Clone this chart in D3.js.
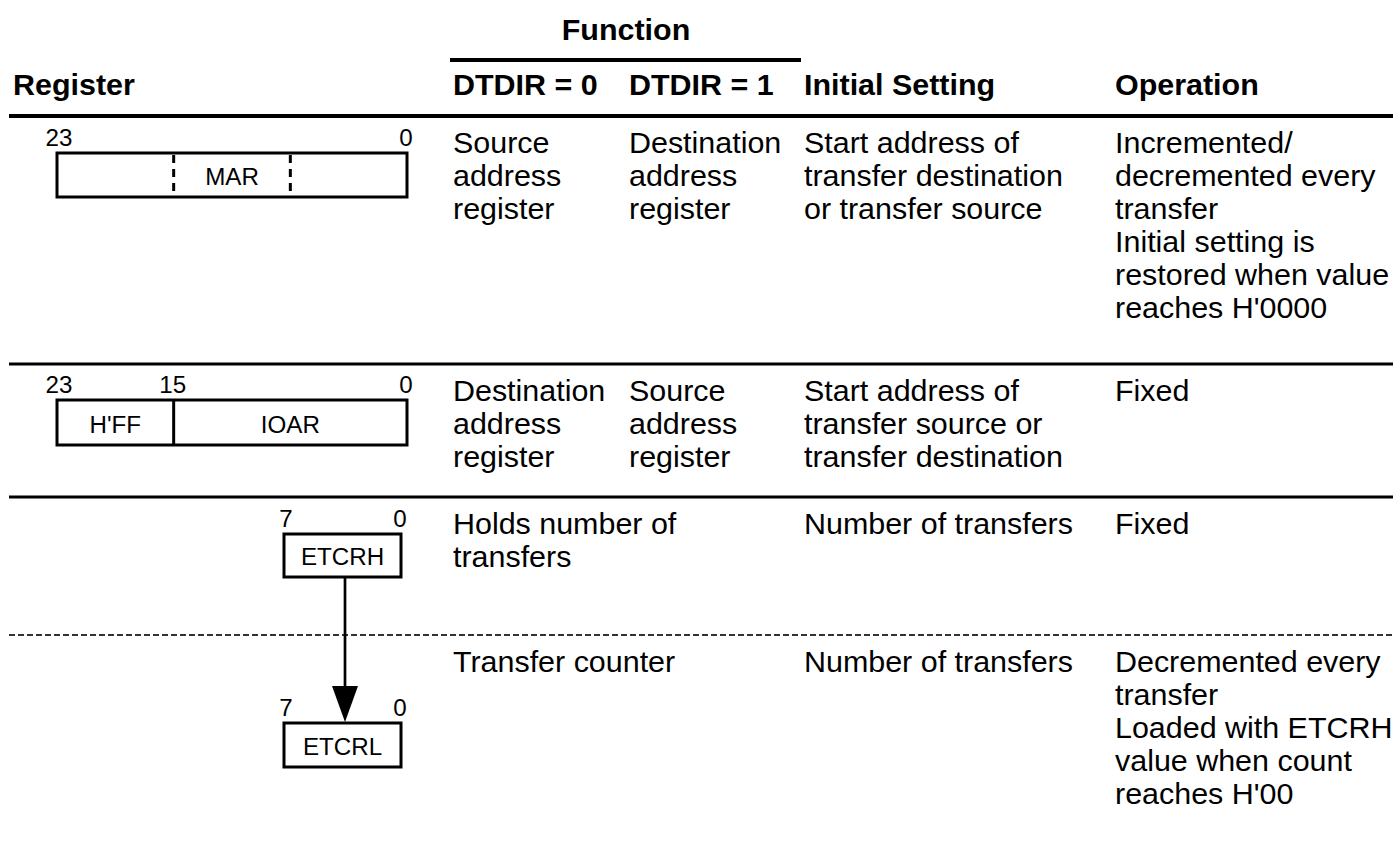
<!DOCTYPE html>
<html><head><meta charset="utf-8">
<script src="https://cdn.jsdelivr.net/npm/d3@7"></script>
<style>
body{margin:0;background:#fff}
svg{display:block}
text{font-family:"Liberation Sans",Arial,Helvetica,sans-serif;fill:#000}
</style></head>
<body><svg id="c" width="1393" height="852"></svg>
<script>
// ---- content ----
const groupHeader = "Function";
const headers = ["Register", "DTDIR = 0", "DTDIR = 1", "Initial Setting", "Operation"];
const col1Text = [
  ["Source", "address", "register"],
  ["Destination", "address", "register"],
  ["Holds number of", "transfers"],
  ["Transfer counter"]
];
const col2Text = [
  ["Destination", "address", "register"],
  ["Source", "address", "register"],
  [],
  []
];
const col3Text = [
  ["Start address of", "transfer destination", "or transfer source"],
  ["Start address of", "transfer source or", "transfer destination"],
  ["Number of transfers"],
  ["Number of transfers"]
];
const col4Text = [
  ["Incremented/", "decremented every", "transfer", "Initial setting is", "restored when value", "reaches H'0000"],
  ["Fixed"],
  ["Fixed"],
  ["Decremented every", "transfer", "Loaded with ETCRH", "value when count", "reaches H'00"]
];
// registers: bit width, bit labels, fields, dashed dividers
const regNames = ["MAR", "IOAR", "ETCRH", "ETCRL"];
const regBits = [24, 24, 8, 8];
const regBitLabels = [[23, 0], [23, 15, 0], [7, 0], [7, 0]];
const regFields = [
  [{label: "MAR", hi: 23, lo: 0}],
  [{label: "H'FF", hi: 23, lo: 16}, {label: "IOAR", hi: 15, lo: 0}],
  [{label: "ETCRH", hi: 7, lo: 0}],
  [{label: "ETCRL", hi: 7, lo: 0}]
];
const regDashedDividers = [[16, 8], [], [], []];

// ---- layout ----
const svg = d3.select("#c");
const SX = 1.05;            // horizontal text stretch of the original
const FS = 29, FS_SMALL = 23, LH = 33;
const colX = [453, 629, 804, 1115];
const rowTop = [116, 364, 497, 635];
const firstBase = 36.5;

function txt(g, x, y, s, opts = {}) {
  return g.append("text")
    .attr("transform", `translate(${x},${y}) scale(${SX},1)`)
    .attr("font-size", opts.size || FS)
    .attr("font-weight", opts.bold ? "bold" : "normal")
    .attr("text-anchor", opts.anchor || "start")
    .text(s);
}

// header
txt(svg, 626, 40, groupHeader, {bold: true, anchor: "middle"});
svg.append("line").attr("x1", 450).attr("x2", 801).attr("y1", 60).attr("y2", 60)
  .attr("stroke", "#000").attr("stroke-width", 4);
const headerX = [13].concat(colX);
headers.forEach((h, i) => txt(svg, headerX[i], 95, h, {bold: true}));

// rules
svg.append("line").attr("x1", 9).attr("x2", 1393).attr("y1", 116).attr("y2", 116)
  .attr("stroke", "#000").attr("stroke-width", 4);
[rowTop[1], rowTop[2]].forEach(y => svg.append("line").attr("x1", 9).attr("x2", 1393)
  .attr("y1", y).attr("y2", y).attr("stroke", "#000").attr("stroke-width", 3));
svg.append("line").attr("x1", 9).attr("x2", 1393).attr("y1", rowTop[3]).attr("y2", rowTop[3])
  .attr("stroke", "#333").attr("stroke-width", 1.8).attr("stroke-dasharray", "6,3");

// body text
[col1Text, col2Text, col3Text, col4Text].forEach((col, ci) => {
  col.forEach((lines, ri) => {
    lines.forEach((s, li) => txt(svg, colX[ci], rowTop[ri] + firstBase + li * LH, s));
  });
});

// registers
const regBox = [
  {x0: 57, x1: 407, y: 153, h: 44},
  {x0: 57, x1: 407, y: 400, h: 45},
  {x0: 284, x1: 401, y: 534, h: 43},
  {x0: 284, x1: 401, y: 723, h: 44}
];
regNames.forEach((name, i) => {
  const b = regBox[i];
  const xs = d3.scaleLinear().domain([regBits[i], 0]).range([b.x0, b.x1]);
  const g = svg.append("g");
  g.append("rect").attr("x", b.x0).attr("y", b.y).attr("width", b.x1 - b.x0).attr("height", b.h)
    .attr("fill", "none").attr("stroke", "#000").attr("stroke-width", 3);
  regBitLabels[i].forEach((bit, k) => {
    const edge = (k === 0) ? regBits[i] : (bit === 0 ? 0 : bit + 1);
    txt(g, xs(edge) + (k === 0 ? 2 : -1), b.y - 7, String(bit), {size: FS_SMALL, anchor: "middle"});
  });
  regFields[i].forEach((f, k) => {
    const xa = xs(f.hi + 1), xb = xs(f.lo);
    txt(g, (xa + xb) / 2, b.y + b.h - 12, f.label, {size: FS_SMALL, anchor: "middle"});
    if (k > 0) g.append("line").attr("x1", xa).attr("x2", xa).attr("y1", b.y).attr("y2", b.y + b.h)
      .attr("stroke", "#000").attr("stroke-width", 3);
  });
  regDashedDividers[i].forEach(bit => {
    g.append("line").attr("x1", xs(bit)).attr("x2", xs(bit)).attr("y1", b.y + 2).attr("y2", b.y + b.h - 2)
      .attr("stroke", "#000").attr("stroke-width", 3).attr("stroke-dasharray", "8,6");
  });
});

// arrow ETCRH -> ETCRL
const ax = 345;
const tipY = regBox[3].y;
svg.append("line").attr("x1", ax).attr("x2", ax).attr("y1", regBox[2].y + regBox[2].h).attr("y2", tipY - 30)
  .attr("stroke", "#000").attr("stroke-width", 2.7);
svg.append("path").attr("d", d3.line()([[ax - 13, tipY - 37], [ax + 13, tipY - 37], [ax, tipY - 1]]) + "Z")
  .attr("fill", "#000");
</script></body></html>
